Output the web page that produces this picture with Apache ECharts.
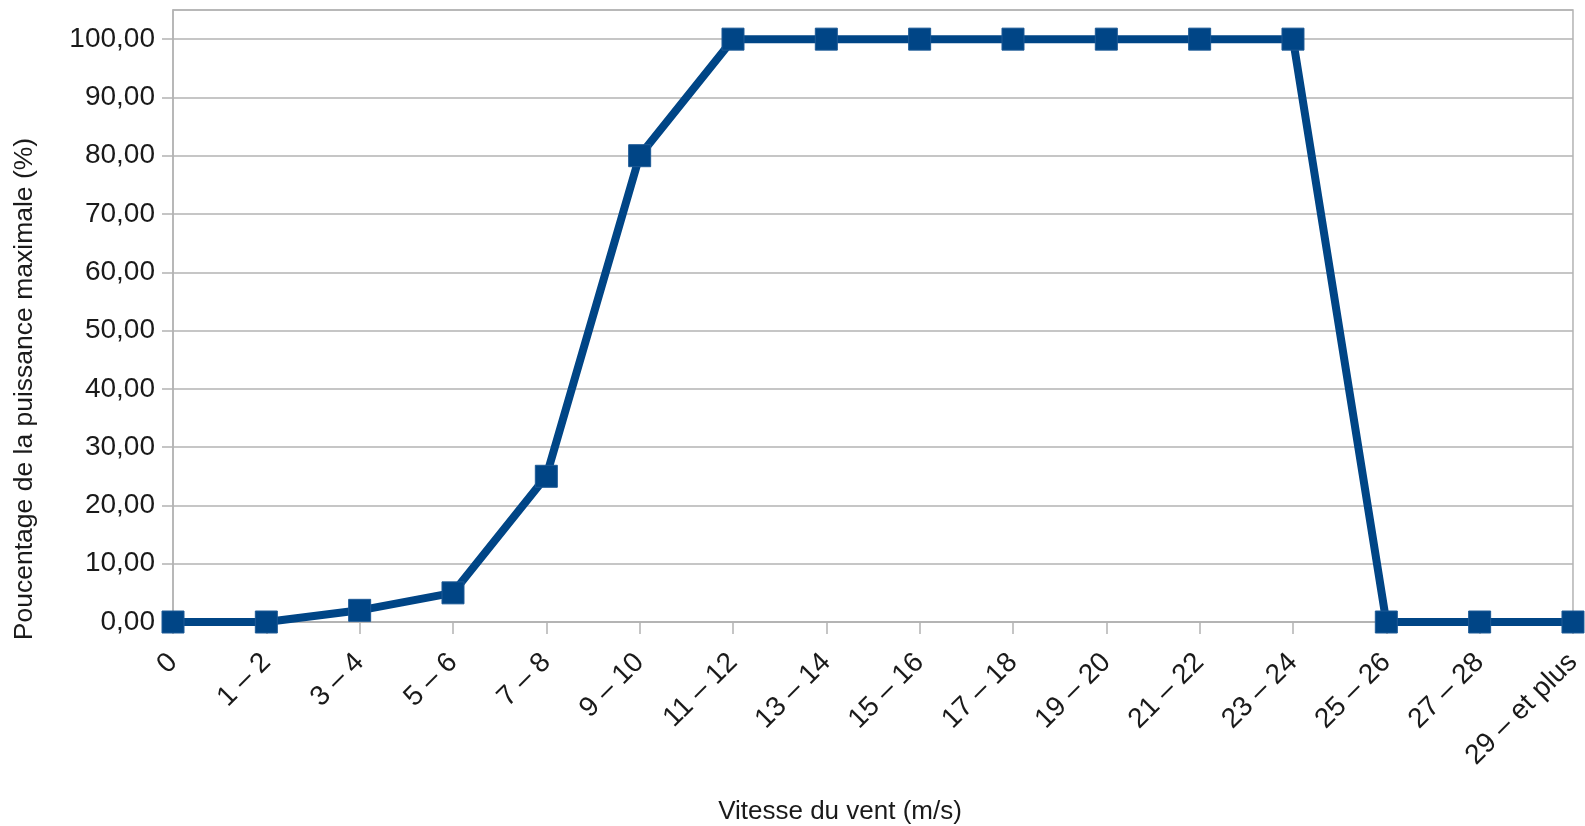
<!DOCTYPE html>
<html>
<head>
<meta charset="utf-8">
<script src="https://cdn.jsdelivr.net/npm/echarts@6/dist/echarts.min.js"></script>
<style>
html,body{margin:0;padding:0;background:#fff;}
#chart{width:1585px;height:826px;}
</style>
</head>
<body>
<div id="chart"></div>
<script>
const categories = ["0","1 – 2","3 – 4","5 – 6","7 – 8","9 – 10","11 – 12","13 – 14","15 – 16","17 – 18","19 – 20","21 – 22","23 – 24","25 – 26","27 – 28","29 – et plus"];
const values = [0,0,2,5,25,80,100,100,100,100,100,100,100,0,0,0];
const xTitle = "Vitesse du vent (m/s)";
const yTitle = "Poucentage de la puissance maximale (%)";

const chart = echarts.init(document.getElementById('chart'));
const font = "'Liberation Sans', Arial, sans-serif";
chart.setOption({
  animation: false,
  backgroundColor: '#ffffff',
  grid: { left: 173, right: 9, top: 10, bottom: 204, containLabel: false,
          show: true, borderColor: '#b3b3b3', borderWidth: 1.5 },
  xAxis: {
    type: 'category', data: categories, boundaryGap: false,
    axisLine: { lineStyle: { color: '#b3b3b3', width: 1.5 } },
    axisTick: { show: true, length: 12, alignWithLabel: true, lineStyle: { color: '#b3b3b3', width: 1.5 } },
    axisLabel: { rotate: 45, interval: 0, fontSize: 28, fontFamily: font, color: '#1a1a1a', margin: 36 },
    splitLine: { show: false }
  },
  yAxis: {
    type: 'value', min: 0, max: 105, interval: 10,
    axisLine: { show: true, lineStyle: { color: '#b3b3b3', width: 1.5 } },
    axisTick: { show: true, length: 11, lineStyle: { color: '#b3b3b3', width: 1.5 } },
    axisLabel: { fontSize: 28, fontFamily: font, color: '#1a1a1a', margin: 18, showMaxLabel: false,
                 formatter: v => v.toFixed(2).replace('.', ',') },
    splitLine: { show: true, lineStyle: { color: '#b3b3b3', width: 1.5 } }
  },
  graphic: [
    { type: 'text', x: 840, y: 812,
      style: { text: xTitle, font: "26px 'Liberation Sans', Arial, sans-serif", fill: '#1a1a1a', textAlign: 'center', textVerticalAlign: 'middle' } },
    { type: 'text', x: 25, y: 389, rotation: Math.PI / 2,
      style: { text: yTitle, font: "26.5px 'Liberation Sans', Arial, sans-serif", fill: '#1a1a1a', textAlign: 'center', textVerticalAlign: 'middle' } }
  ],
  series: [{
    type: 'line', data: values,
    lineStyle: { color: '#004586', width: 8 },
    itemStyle: { color: '#004586', borderColor: '#1d5a96', borderWidth: 1 },
    symbol: 'rect', symbolSize: 22, showSymbol: true
  }]
});
</script>
</body>
</html>
